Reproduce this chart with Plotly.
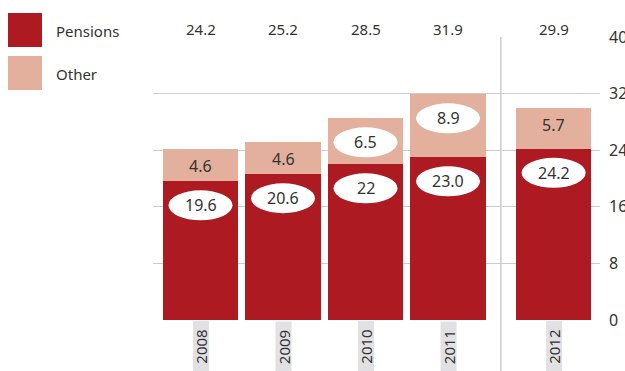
import plotly.graph_objects as go

# data
years = ["2008", "2009", "2010", "2011", "2012"]
pensions = [19.6, 20.6, 22.0, 23.0, 24.2]
other = [4.6, 4.6, 6.5, 8.9, 5.7]
pension_labels = ["19.6", "20.6", "22", "23.0", "24.2"]
other_labels = ["4.6", "4.6", "6.5", "8.9", "5.7"]
other_circled = [False, False, True, True, False]
y_ticks = [0, 8, 16, 24, 32, 40]

RED = "#AD1A21"
PINK = "#E2B09C"
TEXT = "#333333"
GRID = "#CCCCCC"
FONT = "Noto Sans"

# last year sits a bit apart from the others, behind a divider
GAP = 0.28
xpos = [i + (GAP if i == len(years) - 1 else 0) for i in range(len(years))]
totals = [p + o for p, o in zip(pensions, other)]

fig = go.Figure()
fig.add_trace(go.Bar(x=xpos, y=pensions, width=0.91, marker_color=RED,
                     marker_line_width=0, name="Pensions"))
fig.add_trace(go.Bar(x=xpos, y=other, width=0.91, marker_color=PINK,
                     marker_line_width=0, name="Other"))

shapes = []
annotations = []


def ellipse(x, y, dy):
    return dict(type="circle", xref="x", yref="y",
                xsizemode="pixel", xanchor=x, x0=-32, x1=32,
                ysizemode="pixel", yanchor=y, y0=dy - 15, y1=dy + 15,
                fillcolor="white", line_width=0, layer="above")


for x, p, o, t, pl, ol, circ, yr in zip(xpos, pensions, other, totals,
                                         pension_labels, other_labels,
                                         other_circled, years):
    # pensions label in white ellipse
    shapes.append(ellipse(x, p, -24))
    annotations.append(dict(x=x, y=p, yshift=-24, text=pl, showarrow=False,
                            font=dict(size=16, color=TEXT)))
    # other label
    dy = -24 if circ else -17
    if circ:
        shapes.append(ellipse(x, t, dy))
    annotations.append(dict(x=x, y=t, yshift=dy, text=ol, showarrow=False,
                            font=dict(size=16, color=TEXT)))
    # total above plot
    annotations.append(dict(x=x, y=1, yref="paper", yshift=20, text=f"{t:.1f}",
                            showarrow=False, font=dict(size=15, color=TEXT)))
    # rotated year tag
    annotations.append(dict(x=x, y=0, yanchor="top", yshift=-1, text=yr,
                            textangle=-90, showarrow=False, width=50, height=15,
                            bgcolor="#E1E1E3", borderpad=0,
                            font=dict(size=15, color=TEXT)))

# divider between 2011 and 2012
mid = (xpos[-2] + xpos[-1]) / 2
shapes.append(dict(type="line", xref="x", yref="paper", x0=mid, x1=mid,
                   y0=-0.2, y1=1, line=dict(color=GRID, width=1.5), layer="below"))

# legend
for i, (name, col) in enumerate([("Pensions", RED), ("Other", PINK)]):
    top = 13 + i * 43
    shapes.append(dict(type="rect", xref="paper", yref="paper",
                       x0=(8 - 153) / 447, x1=(42 - 153) / 447,
                       y0=1 + (37 - top) / 283, y1=1 + (37 - top - 34) / 283,
                       fillcolor=col, line_width=0))
    annotations.append(dict(xref="paper", yref="paper", x=(54 - 153) / 447,
                            y=1 + (37 - top - 18) / 283, xanchor="left",
                            yanchor="middle", text=name, showarrow=False,
                            font=dict(size=15, color=TEXT)))

fig.update_layout(
    width=625, height=371,
    margin=dict(l=153, r=25, t=37, b=51),
    barmode="stack",
    showlegend=False,
    plot_bgcolor="white", paper_bgcolor="white",
    font=dict(family=FONT, color=TEXT),
    shapes=shapes,
    annotations=annotations,
    xaxis=dict(range=[-0.576, 4.842], showticklabels=False, showgrid=False,
               zeroline=False, fixedrange=True, automargin=False),
    yaxis=dict(range=[0, 40], side="right", tickvals=y_ticks,
               gridcolor=GRID, gridwidth=1, zeroline=False, automargin=False,
               ticklabelstandoff=8, tickfont=dict(size=16, color=TEXT)),
)

fig.write_html("out.html", config={"displayModeBar": False},
               post_script="document.body.style.margin='0';")
